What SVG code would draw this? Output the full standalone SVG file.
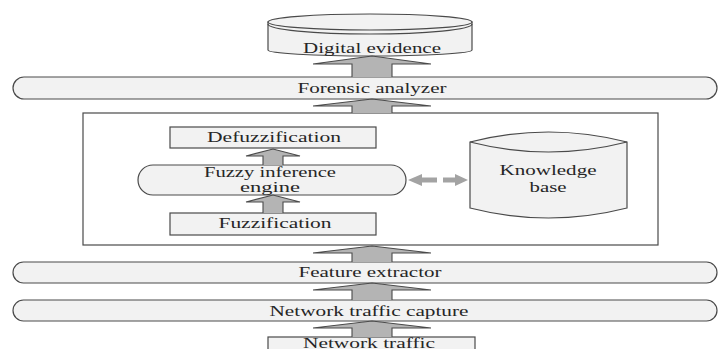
<svg xmlns="http://www.w3.org/2000/svg" width="719" height="349" viewBox="0 0 719 349">
  <style>
    .shape { fill: #f2f2f2; stroke: #4a4a4a; stroke-width: 1.2; }
    .frame { fill: #ffffff; stroke: #4a4a4a; stroke-width: 1.2; }
    .line { fill: none; stroke: #4a4a4a; stroke-width: 1.2; }
    .flow { fill: #b4b4b4; stroke: #4a4a4a; stroke-width: 1.1; stroke-linejoin: miter; }
    .link { fill: #a3a3a3; stroke: none; }
    text { font-family: "Liberation Serif", "DejaVu Serif", "Times New Roman", serif; font-size: 15px; fill: #262626; text-anchor: middle; }
  </style>

  <rect width="719" height="349" fill="#ffffff"/>

  <!-- fuzzy system frame -->
  <g id="fuzzy-system">
    <rect class="frame" x="83" y="113" width="575" height="132"/>
  </g>

  <!-- storage of results -->
  <g id="digital-evidence">
    <path class="shape" d="M268,22 V50 A102,6 0 0 0 472,50 V22 Z"/>
    <ellipse class="shape" cx="370" cy="22" rx="102" ry="8"/>
    <path class="line" d="M268,24 A102,10 0 0 0 472,24"/>
    <text x="372" y="53" textLength="138" lengthAdjust="spacingAndGlyphs">Digital evidence</text>
  </g>

  <g id="forensic-analyzer">
    <rect class="shape" x="13" y="77" width="704" height="22" rx="11" ry="11"/>
    <text x="372" y="93" textLength="149" lengthAdjust="spacingAndGlyphs">Forensic analyzer</text>
  </g>

  <g id="defuzzification">
    <rect class="shape" x="170" y="127" width="206" height="21"/>
    <text x="274" y="142" textLength="134" lengthAdjust="spacingAndGlyphs">Defuzzification</text>
  </g>

  <g id="inference-engine">
    <rect class="shape" x="138" y="165" width="268" height="30" rx="15" ry="15"/>
    <text x="270" y="177" textLength="132" lengthAdjust="spacingAndGlyphs">Fuzzy inference</text>
    <text x="270" y="192" textLength="60" lengthAdjust="spacingAndGlyphs">engine</text>
  </g>

  <g id="fuzzification">
    <rect class="shape" x="170" y="213" width="206" height="22"/>
    <text x="275" y="228" textLength="113" lengthAdjust="spacingAndGlyphs">Fuzzification</text>
  </g>

  <g id="knowledge-base">
    <path class="shape" d="M470,142 V208 Q548.5,228 627,208 V142 Q548.5,122 470,142 Z"/>
    <path class="line" d="M470,142 Q548.5,162 627,142"/>
    <text x="548" y="175" textLength="97" lengthAdjust="spacingAndGlyphs">Knowledge</text>
    <text x="548" y="192" textLength="37" lengthAdjust="spacingAndGlyphs">base</text>
  </g>

  <g id="feature-extractor">
    <rect class="shape" x="13" y="262" width="704" height="21" rx="10.5" ry="10.5"/>
    <text x="370" y="277" textLength="143" lengthAdjust="spacingAndGlyphs">Feature extractor</text>
  </g>

  <g id="traffic-capture">
    <rect class="shape" x="13" y="300" width="704" height="21" rx="10.5" ry="10.5"/>
    <text x="369" y="316" textLength="199" lengthAdjust="spacingAndGlyphs">Network traffic capture</text>
  </g>

  <g id="network-traffic">
    <rect class="shape" x="268" y="337" width="207" height="20"/>
    <text x="369" y="347.5" font-size="14" textLength="132" lengthAdjust="spacingAndGlyphs">Network traffic</text>
  </g>

  <!-- data flow between stages -->
  <g id="connectors">
    <path class="flow" d="M352,77 V64 H313 L372,56 L431,64 H392 V77"/>
    <path class="flow" d="M352,113 V106 H313 L372,99 L431,106 H392 V113"/>
    <path class="flow" d="M352,262 V253 H313 L372,246 L431,253 H392 V262"/>
    <path class="flow" d="M352,300 V290 H313 L372,283 L431,290 H392 V300"/>
    <path class="flow" d="M352,337 V328 H313 L372,321 L431,328 H392 V337"/>

    <path class="flow" d="M263,165 V156 H246 L273,149 L300,156 H283 V165"/>
    <path class="flow" d="M263,213 V202 H246 L273,195 L300,202 H283 V213"/>

    <polygon class="link" points="408,180 422,174 422,177.5 437,177.5 437,182.5 422,182.5 422,186"/>
    <polygon class="link" points="443,177.5 455,177.5 455,174 468,180 455,186 455,182.5 443,182.5"/>
  </g>
</svg>
